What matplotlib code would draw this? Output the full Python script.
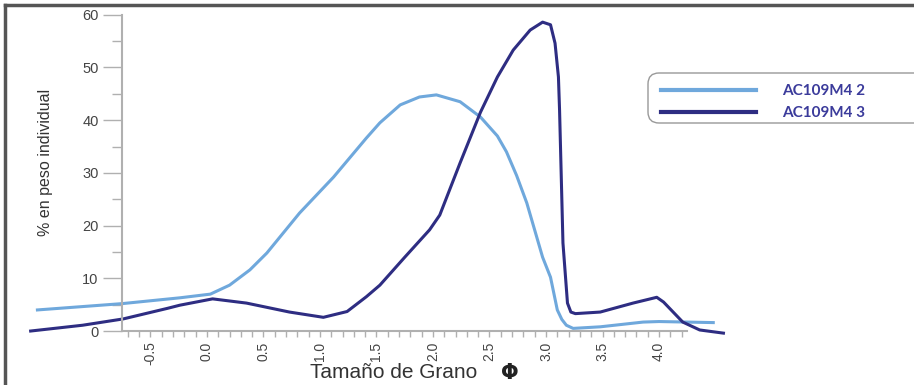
import matplotlib.pyplot as plt
from matplotlib.lines import Line2D
from matplotlib.patches import FancyBboxPatch
from matplotlib.ticker import MultipleLocator

# curve values
x_m2 = [-1.5, -0.75, -0.24, 0.03, 0.2, 0.38, 0.53, 0.82, 1.12, 1.41, 1.53, 1.71, 1.88,
        2.03, 2.24, 2.42, 2.57, 2.65, 2.74, 2.83, 2.97, 3.04, 3.1, 3.14, 3.18, 3.24,
        3.48, 3.86, 4.0, 4.48]
y_m2 = [4.0, 5.2, 6.3, 7.0, 8.7, 11.6, 14.8, 22.4, 29.2, 36.6, 39.5, 42.9, 44.4,
        44.8, 43.5, 40.6, 37.0, 34.0, 29.5, 24.3, 14.0, 10.2, 4.0, 2.2, 1.1, 0.5,
        0.8, 1.7, 1.8, 1.6]

x_m3 = [-1.56, -1.1, -0.74, -0.35, -0.24, 0.05, 0.35, 0.73, 1.03, 1.24, 1.41, 1.53,
        1.75, 1.97, 2.06, 2.24, 2.42, 2.57, 2.71, 2.86, 2.97, 3.04, 3.08, 3.11, 3.12,
        3.15, 3.19, 3.22, 3.26, 3.48, 3.77, 3.98, 4.04, 4.21, 4.36, 4.57]
y_m3 = [0.0, 1.1, 2.3, 4.3, 4.9, 6.1, 5.3, 3.6, 2.6, 3.7, 6.5, 8.7,
        14.0, 19.2, 22.0, 31.9, 41.5, 48.2, 53.3, 57.1, 58.6, 58.1, 54.6, 48.2, 41.9,
        16.7, 5.3, 3.6, 3.3, 3.6, 5.3, 6.4, 5.5, 1.7, 0.2, -0.4]

labels = ["AC109M4 2", "AC109M4 3"]
colors = ["#6fa8dc", "#2e2d82"]

plt.rcParams['font.family'] = ['Liberation Sans', 'DejaVu Sans']

fig = plt.figure(figsize=(9.14, 3.85), dpi=100)
ax = fig.add_axes([0.0224, 0.1265, 0.779, 0.842])

ax.plot(x_m2, y_m2, color=colors[0], lw=2.2, label=labels[0], clip_on=False,
        solid_joinstyle='round')
ax.plot(x_m3, y_m3, color=colors[1], lw=2.2, label=labels[1], clip_on=False,
        solid_joinstyle='round')

ax.set_xlim(-1.65, 4.65)
ax.set_ylim(-1, 60.5)

for s in ['top', 'right']:
    ax.spines[s].set_visible(False)
ax.spines['left'].set_position(('data', -0.75))
ax.spines['bottom'].set_position(('data', 0))
ax.spines['left'].set_bounds(0, 60)
ax.spines['bottom'].set_bounds(-0.75, 4.25)
for s in ['left', 'bottom']:
    ax.spines[s].set_color('#b0b0b0')
    ax.spines[s].set_linewidth(1.5)

ax.set_xticks([-0.5, 0.0, 0.5, 1.0, 1.5, 2.0, 2.5, 3.0, 3.5, 4.0])
ax.set_xticklabels(['-0.5', '0.0', '0.5', '1.0', '1.5', '2.0', '2.5', '3.0', '3.5', '4.0'],
                   rotation=90)
ax.set_xticks([v / 10 for v in range(-7, 43)], minor=True)
ax.set_yticks([0, 10, 20, 30, 40, 50, 60])
ax.yaxis.set_minor_locator(MultipleLocator(5))

ax.tick_params(axis='x', which='both', direction='out', length=4.5, width=1,
               color='#b0b0b0', labelsize=10, labelcolor='#444444', pad=3)
ax.tick_params(axis='y', which='major', direction='out', length=14, width=1,
               color='#b0b0b0', labelsize=10.5, labelcolor='#444444', pad=3)
ax.tick_params(axis='y', which='minor', direction='out', length=7, width=1,
               color='#b0b0b0')

fig.text(46 / 914, 1 - 162 / 385, "% en peso individual", rotation=90,
         ha='center', va='center', fontsize=11.5, color='#333333')
fig.text(394 / 914, 1 - 372 / 385, "Tamaño de Grano", ha='center', va='center',
         fontsize=15, color='#333333')
fig.text(510 / 914, 1 - 373 / 385, "Φ", ha='center', va='center',
         fontsize=15, fontweight='bold', color='#222222',
         family=['DejaVu Sans'])

# legend box with round corners running past the right edge
box = FancyBboxPatch((648 / 914, 1 - 123 / 385), 290 / 914, 50 / 385,
                     boxstyle='round,pad=0,rounding_size=0.012',
                     mutation_aspect=914 / 385, transform=fig.transFigure,
                     facecolor='white', edgecolor='#999999', lw=1.0, clip_on=False)
fig.patches.append(box)
leg = fig.legend(loc='upper left', bbox_to_anchor=(661 / 914, 1 - 84 / 385),
                 frameon=False, handlelength=6.2, handletextpad=1.75,
                 labelspacing=0.55, borderpad=0, borderaxespad=0,
                 prop={'family': 'Lato', 'weight': 'bold', 'size': 11})
for t in leg.get_texts():
    t.set_color('#3b3b9b')
for h in leg.legend_handles:
    h.set_linewidth(3)

# dark frame at top and left of the picture
fig.add_artist(Line2D([5 / 914, 1], [1 - 5 / 385, 1 - 5 / 385], transform=fig.transFigure,
                      color='#555555', lw=2.5))
fig.add_artist(Line2D([5 / 914, 5 / 914], [0, 1 - 5 / 385], transform=fig.transFigure,
                      color='#555555', lw=2.5))

fig.savefig("out.png", dpi=100)
